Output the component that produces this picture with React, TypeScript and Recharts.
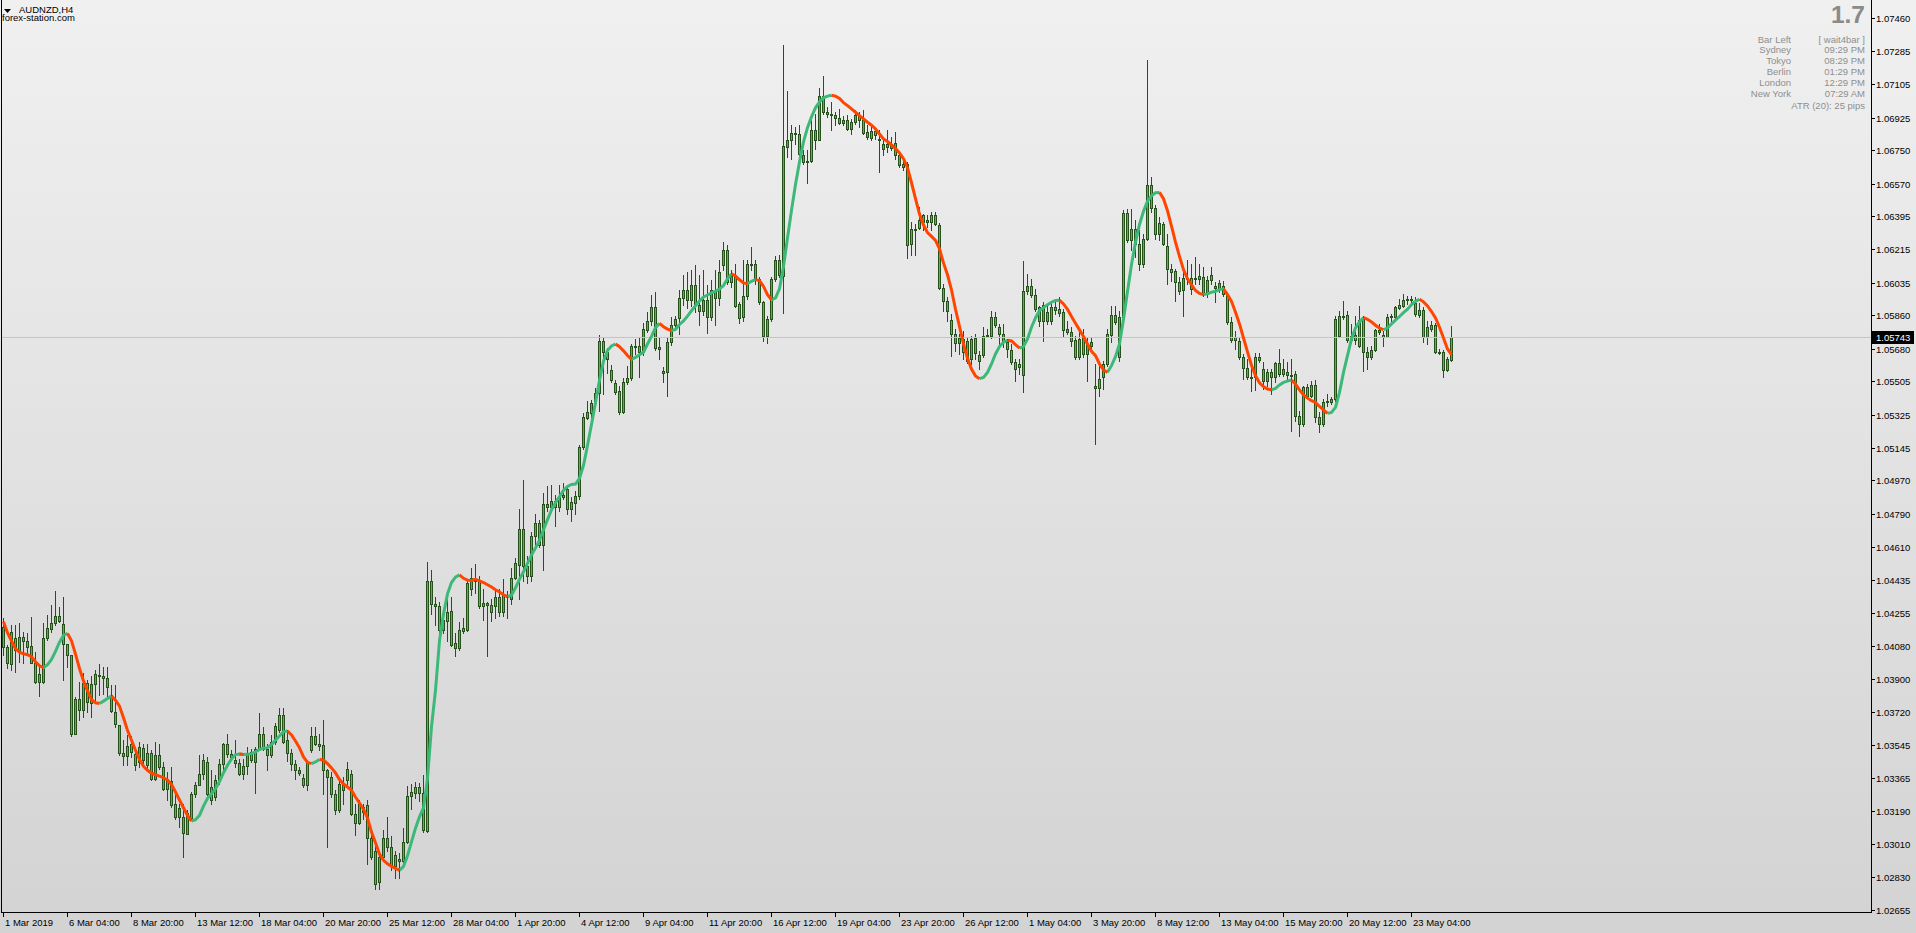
import React from 'react';
import { ComposedChart, XAxis, YAxis, Bar, Line, ReferenceLine } from 'recharts';

// ---------------- DATA (AUDNZD H4) ----------------
const opens = [
  1.04184, 1.04076, 1.03981, 1.04121, 1.04049, 1.04126, 1.04107, 1.04080, 1.03990, 1.03887,
  1.03887, 1.04121, 1.04173, 1.04202, 1.04242, 1.04198, 1.04090, 1.04031, 1.03608, 1.03797,
  1.03734, 1.03878, 1.03775, 1.03873, 1.03925, 1.03919, 1.03905, 1.03815, 1.03725, 1.03653,
  1.03504, 1.03486, 1.03554, 1.03500, 1.03455, 1.03532, 1.03504, 1.03504, 1.03365, 1.03491,
  1.03428, 1.03356, 1.03352, 1.03226, 1.03158, 1.03158, 1.03068, 1.03154, 1.03280, 1.03333,
  1.03388, 1.03455, 1.03320, 1.03266, 1.03360, 1.03442, 1.03550, 1.03500, 1.03464, 1.03450,
  1.03388, 1.03432, 1.03509, 1.03455, 1.03523, 1.03608, 1.03527, 1.03491, 1.03563, 1.03626,
  1.03707, 1.03572, 1.03504, 1.03446, 1.03410, 1.03370, 1.03329, 1.03522, 1.03594, 1.03554,
  1.03545, 1.03410, 1.03374, 1.03280, 1.03194, 1.03338, 1.03356, 1.03392, 1.03176, 1.03127,
  1.03212, 1.03225, 1.03046, 1.02974, 1.02809, 1.02943, 1.03046, 1.02995, 1.02892, 1.02933,
  1.02923, 1.03026, 1.03273, 1.03290, 1.03321, 1.03290, 1.03082, 1.04429, 1.04305, 1.04295,
  1.04167, 1.04216, 1.04270, 1.04094, 1.04068, 1.04163, 1.04167, 1.04387, 1.04443, 1.04429,
  1.04295, 1.04311, 1.04299, 1.04295, 1.04346, 1.04264, 1.04356, 1.04336, 1.04445, 1.04517,
  1.04713, 1.04511, 1.04460, 1.04672, 1.04742, 1.04625, 1.04848, 1.04831, 1.04862, 1.04831,
  1.04883, 1.04924, 1.04856, 1.04852, 1.04887, 1.05151, 1.05310, 1.05336, 1.05392, 1.05444,
  1.05722, 1.05666, 1.05567, 1.05495, 1.05456, 1.05343, 1.05501, 1.05522, 1.05697, 1.05697,
  1.05666, 1.05784, 1.05832, 1.05908, 1.05693, 1.05563, 1.05557, 1.05718, 1.05811, 1.05848,
  1.05956, 1.05999, 1.05945, 1.06026, 1.05918, 1.05886, 1.05945, 1.05853, 1.05999, 1.05956,
  1.06131, 1.06212, 1.06041, 1.06077, 1.05924, 1.05852, 1.05964, 1.06140, 1.06140, 1.06059,
  1.05933, 1.05753, 1.05843, 1.06059, 1.06162, 1.06077, 1.06770, 1.06806, 1.06847, 1.06842,
  1.06725, 1.06693, 1.06693, 1.06860, 1.06810, 1.07044, 1.06959, 1.06946, 1.06941, 1.06928,
  1.06901, 1.06914, 1.06869, 1.06905, 1.06941, 1.06914, 1.06851, 1.06820, 1.06856, 1.06815,
  1.06761, 1.06784, 1.06784, 1.06792, 1.06725, 1.06680, 1.06680, 1.06248, 1.06329, 1.06334,
  1.06365, 1.06378, 1.06365, 1.06405, 1.06351, 1.06010, 1.05942, 1.05838, 1.05762, 1.05712,
  1.05735, 1.05726, 1.05627, 1.05658, 1.05650, 1.05650, 1.05753, 1.05753, 1.05856, 1.05798,
  1.05762, 1.05717, 1.05676, 1.05609, 1.05582, 1.05542, 1.05996, 1.06018, 1.05974, 1.05906,
  1.05830, 1.05883, 1.05830, 1.05906, 1.05897, 1.05879, 1.05789, 1.05771, 1.05730, 1.05640,
  1.05744, 1.05654, 1.05699, 1.05483, 1.05470, 1.05528, 1.05600, 1.05757, 1.05865, 1.05636,
  1.05852, 1.06414, 1.06266, 1.06329, 1.06248, 1.06140, 1.06275, 1.06563, 1.06442, 1.06302,
  1.06356, 1.06234, 1.06113, 1.06100, 1.06041, 1.06000, 1.06064, 1.06064, 1.06059, 1.06059,
  1.06068, 1.05978, 1.06054, 1.06018, 1.06005, 1.06023, 1.05978, 1.05829, 1.05744, 1.05726,
  1.05640, 1.05578, 1.05528, 1.05528, 1.05640, 1.05573, 1.05506, 1.05555, 1.05528, 1.05605,
  1.05546, 1.05555, 1.05542, 1.05546, 1.05321, 1.05276, 1.05474, 1.05429, 1.05488, 1.05316,
  1.05276, 1.05393, 1.05393, 1.05411, 1.05753, 1.05861, 1.05866, 1.05730, 1.05730, 1.05699,
  1.05843, 1.05663, 1.05636, 1.05676, 1.05784, 1.05758, 1.05748, 1.05856, 1.05856, 1.05902,
  1.05910, 1.05946, 1.05951, 1.05928, 1.05892, 1.05892, 1.05744, 1.05789, 1.05812, 1.05663,
  1.05663, 1.05568, 1.05622,
];

const highs = [
  1.04229, 1.04085, 1.04193, 1.04193, 1.04202, 1.04157, 1.04148, 1.04238, 1.04049, 1.03968,
  1.04202, 1.04247, 1.04301, 1.04377, 1.04292, 1.04346, 1.04090, 1.04031, 1.03806, 1.03887,
  1.03932, 1.03896, 1.03918, 1.03950, 1.03981, 1.03968, 1.03968, 1.03869, 1.03869, 1.03653,
  1.03572, 1.03599, 1.03595, 1.03536, 1.03563, 1.03554, 1.03554, 1.03518, 1.03563, 1.03554,
  1.03455, 1.03401, 1.03428, 1.03284, 1.03230, 1.03230, 1.03194, 1.03293, 1.03347, 1.03491,
  1.03500, 1.03482, 1.03410, 1.03383, 1.03473, 1.03558, 1.03608, 1.03518, 1.03572, 1.03473,
  1.03473, 1.03536, 1.03527, 1.03536, 1.03720, 1.03644, 1.03554, 1.03599, 1.03666, 1.03748,
  1.03748, 1.03626, 1.03527, 1.03464, 1.03428, 1.03392, 1.03464, 1.03644, 1.03644, 1.03608,
  1.03680, 1.03419, 1.03401, 1.03302, 1.03365, 1.03374, 1.03455, 1.03414, 1.03230, 1.03248,
  1.03230, 1.03248, 1.03077, 1.03005, 1.02974, 1.03088, 1.03160, 1.03057, 1.02974, 1.02964,
  1.03098, 1.03325, 1.03335, 1.03346, 1.03342, 1.03387, 1.04532, 1.04491, 1.04346, 1.04315,
  1.04274, 1.04336, 1.04346, 1.04150, 1.04212, 1.04233, 1.04439, 1.04501, 1.04521, 1.04460,
  1.04387, 1.04315, 1.04336, 1.04377, 1.04387, 1.04439, 1.04377, 1.04501, 1.04553, 1.04821,
  1.04975, 1.04563, 1.04697, 1.04790, 1.04759, 1.04903, 1.04944, 1.04949, 1.04893, 1.04949,
  1.04959, 1.04934, 1.04883, 1.04918, 1.05165, 1.05336, 1.05398, 1.05404, 1.05470, 1.05759,
  1.05739, 1.05687, 1.05594, 1.05512, 1.05481, 1.05522, 1.05590, 1.05708, 1.05735, 1.05739,
  1.05821, 1.05883, 1.05970, 1.05990, 1.05739, 1.05584, 1.05739, 1.05852, 1.05858, 1.05999,
  1.06080, 1.06096, 1.06107, 1.06134, 1.06080, 1.06107, 1.06026, 1.06053, 1.06107, 1.06161,
  1.06257, 1.06239, 1.06104, 1.06140, 1.05933, 1.06158, 1.06158, 1.06230, 1.06158, 1.06068,
  1.05942, 1.05861, 1.06068, 1.06180, 1.06185, 1.07319, 1.07071, 1.06887, 1.06878, 1.06887,
  1.06752, 1.06752, 1.06932, 1.06950, 1.07085, 1.07152, 1.06986, 1.07013, 1.06959, 1.06977,
  1.06936, 1.06941, 1.06923, 1.06968, 1.06959, 1.06968, 1.06887, 1.06878, 1.06878, 1.06860,
  1.06815, 1.06860, 1.06824, 1.06851, 1.06743, 1.06716, 1.06689, 1.06365, 1.06356, 1.06446,
  1.06410, 1.06401, 1.06419, 1.06419, 1.06360, 1.06032, 1.05960, 1.05870, 1.05789, 1.05762,
  1.05780, 1.05744, 1.05753, 1.05762, 1.05672, 1.05798, 1.05789, 1.05888, 1.05879, 1.05816,
  1.05816, 1.05735, 1.05708, 1.05627, 1.05627, 1.06154, 1.06086, 1.06059, 1.06005, 1.05915,
  1.05933, 1.05924, 1.05933, 1.05951, 1.05960, 1.05897, 1.05834, 1.05798, 1.05753, 1.05780,
  1.05789, 1.05744, 1.05744, 1.05600, 1.05600, 1.05618, 1.05789, 1.05915, 1.05915, 1.05888,
  1.06428, 1.06437, 1.06437, 1.06374, 1.06320, 1.06302, 1.07238, 1.06608, 1.06455, 1.06392,
  1.06365, 1.06302, 1.06140, 1.06113, 1.06068, 1.06104, 1.06158, 1.06140, 1.06176, 1.06140,
  1.06122, 1.06077, 1.06122, 1.06041, 1.06054, 1.06050, 1.05987, 1.05852, 1.05780, 1.05744,
  1.05654, 1.05627, 1.05600, 1.05658, 1.05658, 1.05609, 1.05573, 1.05573, 1.05609, 1.05681,
  1.05627, 1.05609, 1.05627, 1.05564, 1.05348, 1.05483, 1.05492, 1.05510, 1.05514, 1.05339,
  1.05411, 1.05438, 1.05420, 1.05861, 1.05888, 1.05942, 1.05888, 1.05816, 1.05861, 1.05915,
  1.05861, 1.05690, 1.05699, 1.05789, 1.05816, 1.05780, 1.05870, 1.05870, 1.05915, 1.05951,
  1.05978, 1.05969, 1.05964, 1.05960, 1.05928, 1.05906, 1.05834, 1.05834, 1.05820, 1.05681,
  1.05676, 1.05636, 1.05807,
];

const lows = [
  1.04031, 1.03959, 1.03950, 1.03941, 1.03995, 1.03990, 1.04040, 1.03986, 1.03882, 1.03810,
  1.03883, 1.04112, 1.04157, 1.04193, 1.04211, 1.03896, 1.03968, 1.03595, 1.03608, 1.03680,
  1.03698, 1.03725, 1.03698, 1.03788, 1.03815, 1.03824, 1.03806, 1.03725, 1.03644, 1.03491,
  1.03437, 1.03437, 1.03482, 1.03410, 1.03428, 1.03428, 1.03419, 1.03356, 1.03356, 1.03419,
  1.03302, 1.03248, 1.03212, 1.03149, 1.03104, 1.02942, 1.03068, 1.03149, 1.03266, 1.03329,
  1.03365, 1.03275, 1.03230, 1.03248, 1.03338, 1.03410, 1.03482, 1.03473, 1.03428, 1.03383,
  1.03365, 1.03392, 1.03455, 1.03288, 1.03518, 1.03518, 1.03414, 1.03482, 1.03554, 1.03617,
  1.03558, 1.03460, 1.03410, 1.03365, 1.03383, 1.03320, 1.03306, 1.03509, 1.03545, 1.03518,
  1.03280, 1.02996, 1.03266, 1.03176, 1.03185, 1.03230, 1.03338, 1.03167, 1.03059, 1.03122,
  1.03149, 1.02906, 1.02933, 1.02768, 1.02768, 1.02933, 1.02974, 1.02871, 1.02830, 1.02830,
  1.02912, 1.03016, 1.03201, 1.03263, 1.03242, 1.03077, 1.03077, 1.04253, 1.04191, 1.04119,
  1.04150, 1.04109, 1.04078, 1.04026, 1.04057, 1.04150, 1.04160, 1.04356, 1.04367, 1.04284,
  1.04222, 1.04026, 1.04216, 1.04233, 1.04243, 1.04243, 1.04233, 1.04305, 1.04439, 1.04336,
  1.04429, 1.04418, 1.04429, 1.04625, 1.04614, 1.04491, 1.04810, 1.04821, 1.04728, 1.04810,
  1.04872, 1.04790, 1.04753, 1.04794, 1.04872, 1.05140, 1.05301, 1.05295, 1.05378, 1.05347,
  1.05440, 1.05553, 1.05501, 1.05440, 1.05332, 1.05336, 1.05491, 1.05512, 1.05656, 1.05532,
  1.05646, 1.05770, 1.05811, 1.05677, 1.05625, 1.05501, 1.05429, 1.05702, 1.05801, 1.05762,
  1.05918, 1.05902, 1.05913, 1.05880, 1.05810, 1.05864, 1.05767, 1.05837, 1.05810, 1.05918,
  1.06104, 1.06032, 1.06014, 1.05906, 1.05820, 1.05834, 1.05951, 1.06104, 1.06032, 1.05924,
  1.05726, 1.05712, 1.05834, 1.06050, 1.06068, 1.05874, 1.06716, 1.06707, 1.06788, 1.06725,
  1.06680, 1.06576, 1.06689, 1.06761, 1.06806, 1.06950, 1.06932, 1.06860, 1.06887, 1.06896,
  1.06887, 1.06860, 1.06838, 1.06896, 1.06878, 1.06842, 1.06815, 1.06806, 1.06815, 1.06635,
  1.06725, 1.06743, 1.06752, 1.06707, 1.06662, 1.06644, 1.06172, 1.06190, 1.06190, 1.06329,
  1.06320, 1.06338, 1.06320, 1.06347, 1.06005, 1.05888, 1.05834, 1.05645, 1.05672, 1.05654,
  1.05627, 1.05604, 1.05600, 1.05627, 1.05573, 1.05636, 1.05744, 1.05740, 1.05798, 1.05699,
  1.05690, 1.05636, 1.05600, 1.05510, 1.05546, 1.05451, 1.05978, 1.05960, 1.05888, 1.05807,
  1.05726, 1.05816, 1.05816, 1.05870, 1.05861, 1.05753, 1.05762, 1.05699, 1.05627, 1.05627,
  1.05636, 1.05510, 1.05663, 1.05168, 1.05429, 1.05465, 1.05591, 1.05717, 1.05816, 1.05618,
  1.05834, 1.06257, 1.06212, 1.06176, 1.06104, 1.06122, 1.06266, 1.06419, 1.06275, 1.06266,
  1.06239, 1.06032, 1.06050, 1.05942, 1.05978, 1.05861, 1.06032, 1.05978, 1.06032, 1.06032,
  1.05969, 1.05960, 1.06032, 1.05933, 1.05987, 1.05969, 1.05816, 1.05717, 1.05681, 1.05627,
  1.05519, 1.05519, 1.05456, 1.05460, 1.05609, 1.05465, 1.05483, 1.05438, 1.05501, 1.05537,
  1.05537, 1.05519, 1.05240, 1.05294, 1.05213, 1.05267, 1.05420, 1.05420, 1.05285, 1.05231,
  1.05267, 1.05375, 1.05384, 1.05402, 1.05744, 1.05843, 1.05717, 1.05717, 1.05708, 1.05690,
  1.05564, 1.05573, 1.05627, 1.05672, 1.05762, 1.05699, 1.05744, 1.05816, 1.05843, 1.05897,
  1.05906, 1.05924, 1.05924, 1.05861, 1.05852, 1.05717, 1.05708, 1.05780, 1.05658, 1.05654,
  1.05528, 1.05564, 1.05618,
];

const closes = [
  1.04076, 1.03986, 1.04153, 1.04058, 1.04130, 1.04108, 1.04076, 1.03990, 1.03887, 1.03928,
  1.04121, 1.04175, 1.04202, 1.04242, 1.04216, 1.04090, 1.04029, 1.03608, 1.03797, 1.03734,
  1.03882, 1.03777, 1.03873, 1.03927, 1.03921, 1.03905, 1.03860, 1.03730, 1.03657, 1.03504,
  1.03486, 1.03541, 1.03509, 1.03441, 1.03536, 1.03464, 1.03437, 1.03365, 1.03491, 1.03428,
  1.03311, 1.03311, 1.03221, 1.03158, 1.03208, 1.03073, 1.03181, 1.03280, 1.03333, 1.03392,
  1.03468, 1.03284, 1.03248, 1.03360, 1.03442, 1.03550, 1.03500, 1.03482, 1.03450, 1.03388,
  1.03432, 1.03496, 1.03464, 1.03523, 1.03608, 1.03527, 1.03491, 1.03563, 1.03648, 1.03707,
  1.03563, 1.03504, 1.03446, 1.03410, 1.03397, 1.03329, 1.03455, 1.03594, 1.03554, 1.03541,
  1.03410, 1.03374, 1.03280, 1.03194, 1.03338, 1.03302, 1.03419, 1.03176, 1.03127, 1.03230,
  1.03185, 1.03046, 1.02943, 1.02799, 1.02943, 1.03046, 1.02995, 1.02892, 1.02954, 1.02921,
  1.03026, 1.03273, 1.03294, 1.03321, 1.03290, 1.03088, 1.04429, 1.04305, 1.04295, 1.04167,
  1.04222, 1.04264, 1.04088, 1.04068, 1.04167, 1.04175, 1.04422, 1.04445, 1.04433, 1.04295,
  1.04311, 1.04299, 1.04264, 1.04346, 1.04264, 1.04356, 1.04346, 1.04445, 1.04526, 1.04713,
  1.04511, 1.04460, 1.04672, 1.04742, 1.04625, 1.04848, 1.04831, 1.04862, 1.04831, 1.04883,
  1.04893, 1.04821, 1.04821, 1.04887, 1.05155, 1.05316, 1.05340, 1.05392, 1.05444, 1.05722,
  1.05666, 1.05625, 1.05512, 1.05450, 1.05343, 1.05501, 1.05522, 1.05697, 1.05693, 1.05666,
  1.05790, 1.05832, 1.05908, 1.05687, 1.05681, 1.05553, 1.05718, 1.05811, 1.05842, 1.05956,
  1.05999, 1.05945, 1.06026, 1.05918, 1.05886, 1.05945, 1.05853, 1.05999, 1.05956, 1.06096,
  1.06212, 1.06041, 1.06077, 1.05915, 1.05848, 1.05964, 1.06140, 1.06136, 1.06059, 1.05933,
  1.05753, 1.05843, 1.06059, 1.06162, 1.06081, 1.06774, 1.06806, 1.06847, 1.06842, 1.06734,
  1.06689, 1.06689, 1.06860, 1.06810, 1.07044, 1.06959, 1.06950, 1.06941, 1.06928, 1.06901,
  1.06914, 1.06869, 1.06905, 1.06941, 1.06914, 1.06846, 1.06824, 1.06856, 1.06833, 1.06806,
  1.06788, 1.06770, 1.06766, 1.06725, 1.06675, 1.06662, 1.06239, 1.06329, 1.06324, 1.06374,
  1.06401, 1.06365, 1.06405, 1.06352, 1.06010, 1.05942, 1.05888, 1.05762, 1.05712, 1.05740,
  1.05663, 1.05618, 1.05735, 1.05740, 1.05614, 1.05753, 1.05758, 1.05856, 1.05812, 1.05762,
  1.05726, 1.05681, 1.05609, 1.05573, 1.05600, 1.05996, 1.06018, 1.05974, 1.05897, 1.05830,
  1.05919, 1.05830, 1.05906, 1.05892, 1.05874, 1.05784, 1.05775, 1.05726, 1.05640, 1.05735,
  1.05654, 1.05708, 1.05717, 1.05470, 1.05519, 1.05600, 1.05762, 1.05865, 1.05825, 1.05852,
  1.06414, 1.06266, 1.06329, 1.06248, 1.06140, 1.06275, 1.06563, 1.06442, 1.06302, 1.06360,
  1.06248, 1.06113, 1.06095, 1.06041, 1.05996, 1.06064, 1.06059, 1.06005, 1.06064, 1.06072,
  1.05978, 1.06054, 1.06081, 1.06010, 1.06036, 1.05978, 1.05825, 1.05730, 1.05730, 1.05640,
  1.05577, 1.05528, 1.05524, 1.05640, 1.05622, 1.05506, 1.05555, 1.05528, 1.05605, 1.05546,
  1.05573, 1.05542, 1.05537, 1.05321, 1.05276, 1.05474, 1.05429, 1.05488, 1.05312, 1.05276,
  1.05393, 1.05402, 1.05411, 1.05843, 1.05861, 1.05856, 1.05730, 1.05753, 1.05758, 1.05838,
  1.05663, 1.05636, 1.05676, 1.05784, 1.05771, 1.05748, 1.05856, 1.05861, 1.05906, 1.05920,
  1.05946, 1.05951, 1.05946, 1.05870, 1.05866, 1.05744, 1.05802, 1.05812, 1.05663, 1.05658,
  1.05568, 1.05627, 1.05748,
];

// smoothed trend line (one value per bar)
const maValues = [
  1.04211, 1.04152, 1.04107, 1.04065, 1.04047, 1.04038, 1.04033, 1.04022, 1.03995, 1.03973,
  1.03963, 1.03979, 1.04008, 1.04051, 1.04101, 1.04137, 1.04148, 1.04108, 1.04036, 1.03959,
  1.03892, 1.03838, 1.03792, 1.03774, 1.03770, 1.03783, 1.03797, 1.03810, 1.03788, 1.03756,
  1.03693, 1.03626, 1.03572, 1.03518, 1.03468, 1.03432, 1.03410, 1.03394, 1.03387, 1.03379,
  1.03370, 1.03358, 1.03334, 1.03293, 1.03250, 1.03208, 1.03167, 1.03136, 1.03144, 1.03167,
  1.03217, 1.03259, 1.03284, 1.03311, 1.03349, 1.03397, 1.03437, 1.03471, 1.03495, 1.03498,
  1.03495, 1.03496, 1.03500, 1.03509, 1.03522, 1.03529, 1.03532, 1.03549, 1.03572, 1.03595,
  1.03619, 1.03622, 1.03601, 1.03568, 1.03531, 1.03482, 1.03453, 1.03446, 1.03455, 1.03468,
  1.03466, 1.03446, 1.03423, 1.03396, 1.03360, 1.03336, 1.03320, 1.03302, 1.03266, 1.03234,
  1.03200, 1.03153, 1.03077, 1.03020, 1.02958, 1.02925, 1.02906, 1.02892, 1.02881, 1.02871,
  1.02892, 1.02950, 1.03024, 1.03098, 1.03160, 1.03207, 1.03366, 1.03645, 1.03841, 1.04109,
  1.04253, 1.04361, 1.04422, 1.04451, 1.04464, 1.04445, 1.04435, 1.04433, 1.04439, 1.04431,
  1.04422, 1.04410, 1.04398, 1.04383, 1.04371, 1.04356, 1.04346, 1.04354, 1.04394, 1.04439,
  1.04480, 1.04526, 1.04571, 1.04608, 1.04651, 1.04707, 1.04761, 1.04814, 1.04852, 1.04885,
  1.04918, 1.04940, 1.04951, 1.04953, 1.04984, 1.05054, 1.05161, 1.05274, 1.05392, 1.05512,
  1.05615, 1.05673, 1.05697, 1.05708, 1.05693, 1.05671, 1.05646, 1.05625, 1.05636, 1.05650,
  1.05664, 1.05708, 1.05749, 1.05796, 1.05819, 1.05801, 1.05788, 1.05780, 1.05786, 1.05813,
  1.05832, 1.05858, 1.05887, 1.05914, 1.05939, 1.05961, 1.05972, 1.05983, 1.05993, 1.06004,
  1.06023, 1.06059, 1.06086, 1.06075, 1.06054, 1.06037, 1.06032, 1.06046, 1.06055, 1.06050,
  1.06018, 1.05974, 1.05946, 1.05956, 1.06005, 1.06126, 1.06280, 1.06428, 1.06568, 1.06689,
  1.06797, 1.06874, 1.06932, 1.06981, 1.07013, 1.07035, 1.07044, 1.07049, 1.07044, 1.07031,
  1.07009, 1.06993, 1.06975, 1.06957, 1.06939, 1.06921, 1.06903, 1.06887, 1.06867, 1.06840,
  1.06813, 1.06799, 1.06781, 1.06761, 1.06738, 1.06707, 1.06658, 1.06577, 1.06491, 1.06408,
  1.06349, 1.06309, 1.06288, 1.06266, 1.06221, 1.06145, 1.06081, 1.06000, 1.05895, 1.05802,
  1.05708, 1.05631, 1.05573, 1.05535, 1.05521, 1.05528, 1.05555, 1.05600, 1.05654, 1.05694,
  1.05717, 1.05728, 1.05724, 1.05704, 1.05686, 1.05694, 1.05735, 1.05798, 1.05848, 1.05888,
  1.05904, 1.05920, 1.05933, 1.05942, 1.05944, 1.05924, 1.05895, 1.05856, 1.05820, 1.05784,
  1.05748, 1.05708, 1.05668, 1.05645, 1.05600, 1.05568, 1.05555, 1.05591, 1.05640, 1.05708,
  1.05841, 1.05991, 1.06136, 1.06257, 1.06352, 1.06423, 1.06477, 1.06507, 1.06523, 1.06525,
  1.06491, 1.06426, 1.06343, 1.06257, 1.06180, 1.06109, 1.06059, 1.06027, 1.05996, 1.05980,
  1.05974, 1.05978, 1.05987, 1.05992, 1.06000, 1.06005, 1.05974, 1.05938, 1.05879, 1.05816,
  1.05740, 1.05665, 1.05593, 1.05537, 1.05499, 1.05478, 1.05465, 1.05461, 1.05469, 1.05487,
  1.05501, 1.05508, 1.05514, 1.05492, 1.05460, 1.05433, 1.05416, 1.05402, 1.05393, 1.05371,
  1.05353, 1.05334, 1.05339, 1.05366, 1.05447, 1.05555, 1.05645, 1.05735, 1.05794, 1.05827,
  1.05850, 1.05841, 1.05827, 1.05809, 1.05793, 1.05785, 1.05794, 1.05816, 1.05836, 1.05856,
  1.05877, 1.05895, 1.05920, 1.05938, 1.05949, 1.05935, 1.05913, 1.05883, 1.05848, 1.05798,
  1.05740, 1.05681, 1.05650,
];

const xTickLabels = [
  '1 Mar 2019', '6 Mar 04:00', '8 Mar 20:00', '13 Mar 12:00', '18 Mar 04:00', '20 Mar 20:00',
  '25 Mar 12:00', '28 Mar 04:00', '1 Apr 20:00', '4 Apr 12:00', '9 Apr 04:00', '11 Apr 20:00',
  '16 Apr 12:00', '19 Apr 04:00', '23 Apr 20:00', '26 Apr 12:00', '1 May 04:00', '3 May 20:00',
  '8 May 12:00', '13 May 04:00', '15 May 20:00', '20 May 12:00', '23 May 04:00',
];
const BARS_PER_LABEL = 16;

const yTicks = [
  1.0746, 1.07285, 1.07105, 1.06925, 1.0675, 1.0657, 1.06395, 1.06215, 1.06035, 1.0586,
  1.0568, 1.05505, 1.05325, 1.05145, 1.0497, 1.0479, 1.0461, 1.04435, 1.04255, 1.0408,
  1.039, 1.0372, 1.03545, 1.03365, 1.0319, 1.0301, 1.0283, 1.02655,
];

const currentPrice = 1.05743;
const symbolTitle = 'AUDNZD,H4';
const siteName = 'forex-station.com';
const bigNumber = '1.7';
const infoLabels = ['Bar Left', 'Sydney', 'Tokyo', 'Berlin', 'London', 'New York'];
const infoValues = ['[ wait4bar ]', '09:29 PM', '08:29 PM', '01:29 PM', '12:29 PM', '07:29 AM'];
const atrText = 'ATR (20): 25 pips';

// ---------------- STYLE ----------------
const W = 1916;
const H = 933;
const X_DOMAIN: [number, number] = [-0.625, 466.875];
const Y_DOMAIN: [number, number] = [1.026463, 1.075566];
const FONT = "'Liberation Sans', Arial, sans-serif";
const WICK = '#24521a';
const BULL = '#3cc43c';
const BEAR = '#c97c56';
const MA_UP = '#3cb878';
const MA_DOWN = '#ff4500';
const INFO = '#8e8e8e';

const n = closes.length;
const rows = closes.map((c, i) => {
  const m = maValues[i];
  const prev = i > 0 ? maValues[i - 1] : undefined;
  const next = i < n - 1 ? maValues[i + 1] : undefined;
  const up = (prev !== undefined && m > prev) || (next !== undefined && next > m);
  const down = (prev !== undefined && m < prev) || (next !== undefined && next < m);
  return {
    i,
    o: opens[i],
    h: highs[i],
    l: lows[i],
    c,
    maUp: up ? m : null,
    maDown: down ? m : null,
  };
});

const xTickValues = xTickLabels.map((_, k) => k * BARS_PER_LABEL);

const Candle = (props: any) => {
  const { x, y, width, height, payload } = props;
  if (!payload || x == null || y == null) return null;
  const { o, h, l, c } = payload;
  const span = h - l;
  const k = span > 0 ? height / span : 0;
  const yOf = (p: number) => y + (h - p) * k;
  const px = Math.round(x + width / 2 - 0.5);
  const cx = px + 0.5;
  const yHi = Math.round(y);
  const yLo = Math.round(y + height);
  const bTop = Math.round(yOf(Math.max(o, c)));
  const bBot = Math.round(yOf(Math.min(o, c)));
  const bull = c >= o;
  return (
    <g shapeRendering="crispEdges">
      <line x1={cx} x2={cx} y1={yHi} y2={yLo + 1} stroke={WICK} strokeWidth={1} />
      {bBot - bTop >= 1 ? (
        <rect x={cx - 1} y={bTop + 0.5} width={2} height={bBot - bTop} fill={bull ? BULL : BEAR} stroke={WICK} strokeWidth={1} />
      ) : (
        <line x1={cx - 1.5} x2={cx + 1.5} y1={bTop + 0.5} y2={bTop + 0.5} stroke={WICK} strokeWidth={1} />
      )}
    </g>
  );
};

const YTick = (props: any) => {
  const { x, y, payload } = props;
  const r = Math.round(y - 0.5);
  return (
    <g>
      <line x1={x + 1} x2={x + 4} y1={r + 0.5} y2={r + 0.5} stroke="#000" strokeWidth={1} shapeRendering="crispEdges" />
      <text x={x + 5} y={r + 4} fontSize={9.5} fontFamily={FONT} fill="#000">
        {Number(payload.value).toFixed(5)}
      </text>
    </g>
  );
};

const XTick = (props: any) => {
  const { x, y, payload } = props;
  const px = Math.round(x - 0.5);
  const idx = xTickValues.indexOf(payload.value);
  return (
    <g>
      <line x1={px + 0.5} x2={px + 0.5} y1={y + 1} y2={y + 5} stroke="#000" strokeWidth={1} shapeRendering="crispEdges" />
      <text x={px + 2} y={y + 14} fontSize={9.5} fontFamily={FONT} fill="#000">
        {idx >= 0 ? xTickLabels[idx] : ''}
      </text>
    </g>
  );
};

const PriceLabel = (props: any) => {
  const vb = props.viewBox || {};
  const r = Math.round((vb.y ?? 0) - 0.5);
  const x0 = (vb.x ?? 0) + (vb.width ?? 0) + 1;
  return (
    <g>
      <rect x={x0} y={r - 6} width={42} height={13} fill="#000" />
      <text x={x0 + 4} y={r + 4} fontSize={9.5} fontFamily={FONT} fill="#fff">
        {currentPrice.toFixed(5)}
      </text>
    </g>
  );
};

export default function App() {
  return (
    <div
      style={{
        position: 'absolute',
        left: 0,
        top: 0,
        width: W,
        height: H,
        background: 'linear-gradient(to bottom, #f0f0f0 0%, #d3d3d3 100%)',
        overflow: 'hidden',
      }}
    >
      <ComposedChart width={W} height={H} data={rows} margin={{ top: 1, right: 0, bottom: 0, left: 1 }}>
        <XAxis
          type="number"
          dataKey="i"
          domain={X_DOMAIN}
          ticks={xTickValues}
          interval={0}
          allowDataOverflow
          height={21}
          axisLine={false}
          tickLine={false}
          tickSize={0}
          tickMargin={0}
          tick={<XTick />}
        />
        <YAxis
          type="number"
          orientation="right"
          domain={Y_DOMAIN}
          ticks={yTicks}
          interval={0}
          allowDataOverflow
          width={45}
          axisLine={false}
          tickLine={false}
          tickSize={0}
          tickMargin={0}
          tick={<YTick />}
        />
        <ReferenceLine y={currentPrice} stroke="#c4c4c4" strokeWidth={1} label={<PriceLabel />} />
        <Bar
          dataKey={(d: any) => [d.l, d.h]}
          barSize={3}
          shape={<Candle />}
          isAnimationActive={false}
        />
        <Line
          type="linear"
          dataKey="maUp"
          stroke={MA_UP}
          strokeWidth={3}
          dot={false}
          activeDot={false}
          connectNulls={false}
          isAnimationActive={false}
        />
        <Line
          type="linear"
          dataKey="maDown"
          stroke={MA_DOWN}
          strokeWidth={3}
          dot={false}
          activeDot={false}
          connectNulls={false}
          isAnimationActive={false}
        />
      </ComposedChart>
      <svg
        width={W}
        height={H}
        style={{ position: 'absolute', left: 0, top: 0, pointerEvents: 'none' }}
      >
        <g shapeRendering="crispEdges" stroke="#000" strokeWidth={1}>
          <line x1={1.5} x2={1.5} y1={0} y2={913} />
          <line x1={1} x2={1872} y1={912.5} y2={912.5} />
          <line x1={1871.5} x2={1871.5} y1={0} y2={913} />
        </g>
        <polygon points="4,9 11,9 7.5,13" fill="#000" />
        <text x={19} y={13} fontSize={9.5} fontFamily={FONT} fill="#000">{symbolTitle}</text>
        <text x={2} y={21} fontSize={9.5} fontFamily={FONT} fill="#000">{siteName}</text>
        <text x={1865} y={22.5} fontSize={24.5} fontWeight="bold" fontFamily={FONT} fill="#8a8a8a" textAnchor="end">
          {bigNumber}
        </text>
        {infoLabels.map((t, k) => (
          <text key={'l' + k} x={1791} y={42.5 + k * 10.8} fontSize={9.5} fontFamily={FONT} fill={INFO} textAnchor="end">
            {t}
          </text>
        ))}
        {infoValues.map((t, k) => (
          <text key={'v' + k} x={1865} y={42.5 + k * 10.8} fontSize={9.5} fontFamily={FONT} fill={INFO} textAnchor="end">
            {t}
          </text>
        ))}
        <text x={1865} y={108.5} fontSize={9.5} fontFamily={FONT} fill={INFO} textAnchor="end">
          {atrText}
        </text>
      </svg>
    </div>
  );
}
